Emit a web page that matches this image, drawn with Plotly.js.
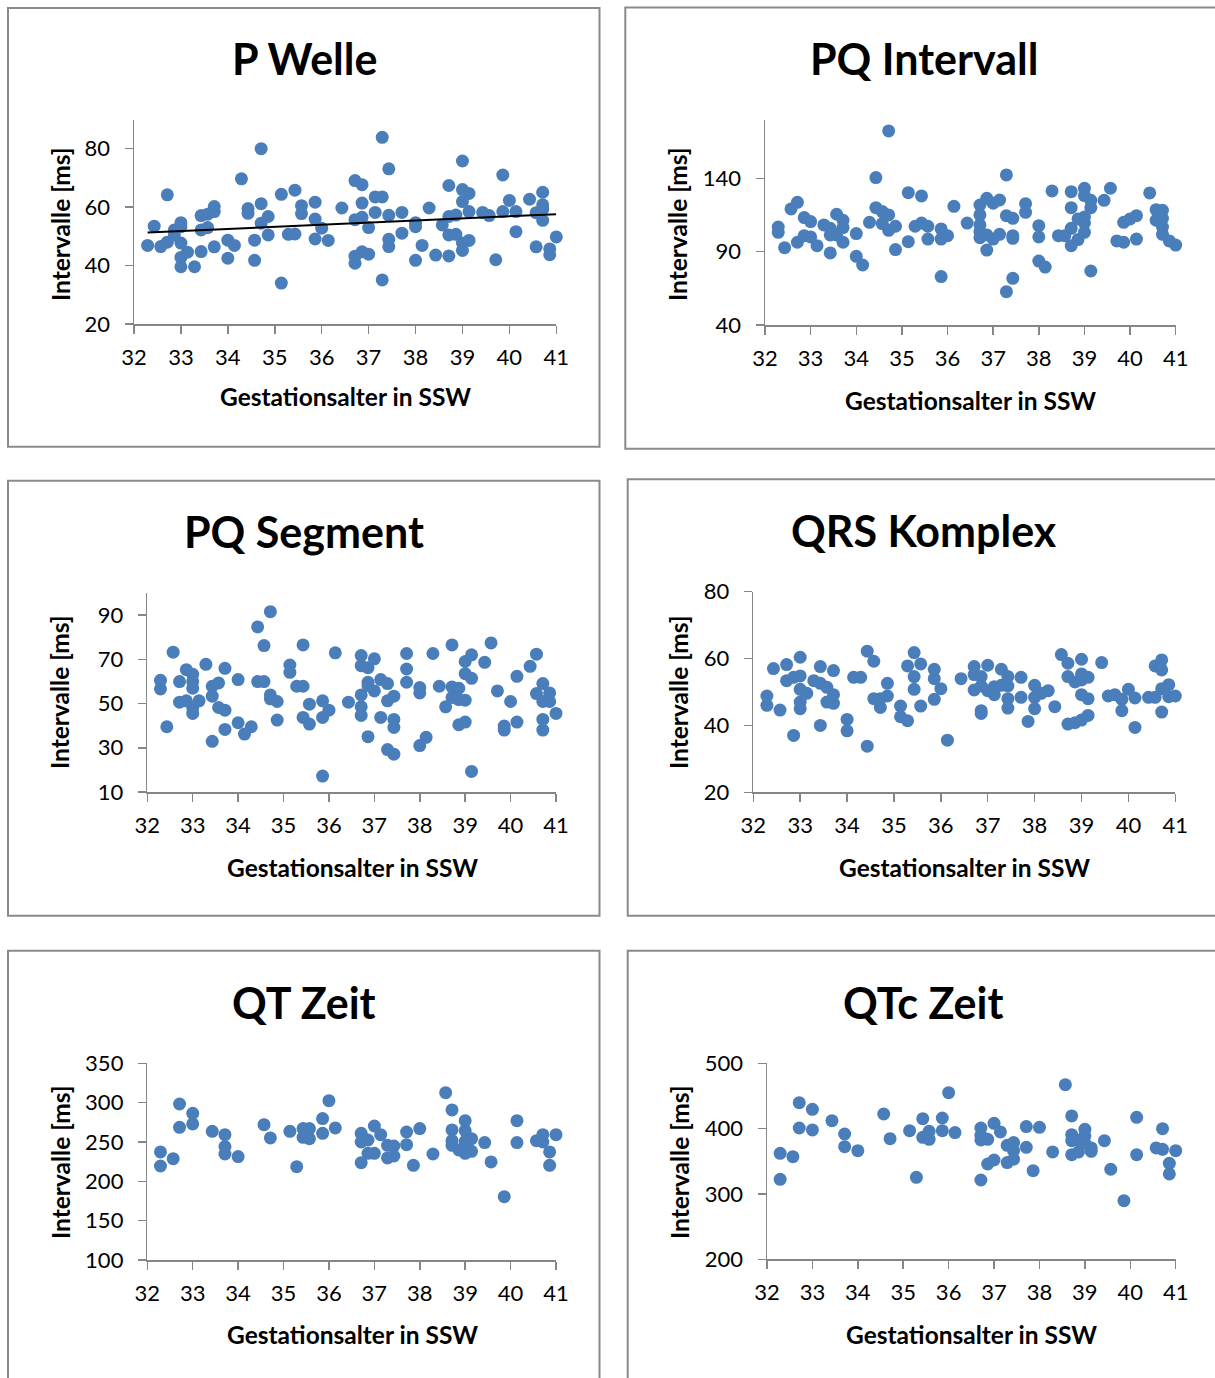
<!DOCTYPE html>
<html>
<head>
<meta charset="utf-8">
<script src="https://cdn.plot.ly/plotly-3.0.1.min.js"></script>
<style>
  html, body { margin: 0; padding: 0; background: #ffffff; }
  #chart { width: 1215px; height: 1378px; }
</style>
</head>
<body>
<div id="chart"></div>
<script>
// ---- Data: gestational age (weeks) vs. interval duration (ms) ----

// P Welle
const pWelleX = [32.29,32.43,32.57,32.71,32.71,32.86,32.86,33.00,33.00,33.00,33.00,33.00,33.14,33.29,33.43,33.43,33.43,33.57,33.57,33.71,33.71,33.71,34.00,34.00,34.14,34.29,34.43,34.43,34.57,34.57,34.71,34.71,34.71,34.86,34.86,35.14,35.14,35.29,35.43,35.43,35.57,35.57,35.86,35.86,35.86,36.00,36.14,36.43,36.71,36.86,36.71,36.86,36.86,36.71,36.71,36.86,37.00,37.00,37.14,37.14,37.29,37.29,37.29,37.43,37.43,37.43,37.43,37.71,37.71,38.00,38.00,38.00,38.14,38.29,38.43,38.57,38.71,38.71,38.71,38.71,38.86,38.86,39.00,39.00,39.00,39.00,39.00,39.14,39.14,39.14,39.43,39.57,39.71,39.86,39.86,40.00,40.14,40.14,40.43,40.57,40.57,40.71,40.71,40.71,40.71,40.86,40.86,41.00];
const pWelleY = [46.9,53.5,46.5,64.2,48.0,52.2,50.5,54.7,53.3,47.7,42.8,39.6,44.6,39.6,57.1,52.2,44.8,57.6,53.0,60.2,58.5,46.4,48.7,42.5,46.9,69.7,59.5,57.9,48.7,41.8,80.0,61.2,54.5,56.8,50.5,64.4,34.0,50.7,65.8,50.8,60.5,57.8,61.7,55.9,49.1,52.8,48.6,59.7,69.1,67.7,55.7,56.5,61.4,43.2,40.8,44.7,43.9,53.0,63.5,58.2,63.5,83.9,35.1,73.1,57.2,49.0,46.5,58.2,51.1,54.7,53.3,41.8,46.9,59.7,43.6,53.9,67.4,56.8,50.5,43.3,57.3,50.7,75.8,66.0,61.9,47.7,45.2,64.7,58.5,48.6,58.2,57.1,42.0,71.0,58.5,62.3,58.5,51.6,62.7,58.1,46.4,65.1,60.8,59.3,55.5,45.7,43.7,49.8];
// linear trend of the P wave series (start / end)
const pWelleTrendX = [32.29, 41.00];
const pWelleTrendY = [51.3, 57.6];

// PQ Intervall
const pqIntervallX = [32.29,32.29,32.43,32.57,32.71,32.71,32.86,32.86,33.00,33.00,33.14,33.29,33.43,33.43,33.43,33.57,33.57,33.71,33.71,33.71,34.00,34.00,34.14,34.29,34.43,34.43,34.57,34.57,34.71,34.71,34.71,34.86,34.86,35.14,35.14,35.29,35.43,35.43,35.57,35.57,35.86,35.86,35.86,36.00,36.14,36.43,36.71,36.71,36.71,36.71,36.71,36.86,36.86,36.86,37.00,37.00,37.14,37.14,37.29,37.29,37.29,37.43,37.43,37.43,37.43,37.71,37.71,38.00,38.00,38.00,38.14,38.29,38.43,38.57,38.71,38.71,38.71,38.71,38.86,38.86,39.00,39.00,39.00,39.00,39.00,39.14,39.14,39.14,39.43,39.57,39.71,39.86,39.86,40.00,40.14,40.14,40.43,40.57,40.57,40.71,40.71,40.71,40.71,40.86,41.00];
const pqIntervallY = [106.8,103.2,92.7,119.1,123.6,96.4,113.2,100.9,110.5,100.0,94.1,108.2,105.9,101.4,89.1,115.5,101.4,111.4,106.4,96.4,102.3,86.8,80.9,110.0,140.5,120.0,117.3,109.1,172.3,115.0,104.5,107.3,91.4,130.2,96.8,107.3,128.0,109.5,107.3,98.6,105.5,98.6,73.0,100.9,120.9,109.5,121.8,115.0,108.2,103.6,99.5,126.4,101.4,91.1,123.0,98.6,125.2,101.8,142.3,114.5,62.7,112.7,100.9,99.1,71.8,122.7,116.8,107.7,100.0,83.6,79.5,131.4,100.9,100.9,130.9,120.0,105.9,94.1,112.3,98.2,133.2,128.2,113.6,109.5,103.2,125.0,120.0,76.8,125.0,133.2,97.3,96.4,110.0,112.3,114.5,98.6,130.0,118.6,111.4,118.2,112.7,106.8,101.8,97.3,94.5];

// PQ Segment
const pqSegmentX = [32.29,32.29,32.43,32.57,32.71,32.71,32.86,32.86,33.00,33.00,33.00,33.00,33.00,33.14,33.29,33.43,33.43,33.43,33.57,33.57,33.71,33.71,33.71,34.00,34.00,34.14,34.29,34.43,34.43,34.57,34.57,34.71,34.71,34.71,34.86,34.86,35.14,35.14,35.29,35.43,35.43,35.43,35.57,35.57,35.86,35.86,35.86,36.00,36.14,36.43,36.71,36.71,36.71,36.71,36.71,36.86,36.86,36.86,36.86,37.00,37.00,37.14,37.14,37.29,37.29,37.29,37.43,37.43,37.43,37.43,37.71,37.71,37.71,38.00,38.00,38.00,38.14,38.29,38.43,38.57,38.71,38.71,38.71,38.86,38.86,38.86,39.00,39.00,39.00,39.00,39.14,39.14,39.14,39.43,39.57,39.71,39.86,39.86,40.00,40.14,40.14,40.43,40.57,40.57,40.71,40.71,40.71,40.71,40.86,40.86,41.00];
const pqSegmentY = [60.5,56.6,39.5,73.2,59.9,50.6,65.3,51.2,63.2,59.9,56.9,48.2,45.5,51.2,67.7,57.8,53.3,32.9,59.3,48.2,65.9,47.0,38.3,60.8,41.3,36.2,39.5,84.6,59.9,59.9,76.2,91.5,53.9,52.1,50.9,42.5,67.4,64.1,57.8,57.8,76.5,43.7,49.7,40.7,51.2,43.7,17.2,47.0,72.9,50.6,71.7,67.1,53.9,48.5,44.6,66.2,59.6,58.1,35.0,70.2,55.7,60.8,43.7,59.0,51.2,29.2,53.3,42.8,39.2,27.1,72.6,65.6,59.6,57.2,54.8,31.0,34.7,72.6,57.8,48.5,76.5,57.5,52.7,56.9,51.8,40.4,69.0,63.5,51.5,41.6,72.0,61.4,19.3,68.6,77.4,55.7,39.8,38.0,50.9,62.3,41.6,66.8,72.3,54.5,59.0,50.9,42.8,38.0,54.8,50.9,45.5];

// QRS Komplex
const qrsX = [32.29,32.29,32.43,32.57,32.71,32.71,32.86,32.86,33.00,33.00,33.00,33.00,33.00,33.14,33.29,33.43,33.43,33.43,33.57,33.57,33.71,33.71,33.71,34.00,34.00,34.14,34.29,34.43,34.43,34.57,34.57,34.71,34.71,34.86,34.86,35.14,35.14,35.29,35.29,35.43,35.43,35.43,35.57,35.57,35.86,35.86,35.86,36.00,36.14,36.43,36.71,36.71,36.71,36.86,36.86,36.86,36.86,37.00,37.00,37.14,37.14,37.29,37.29,37.43,37.43,37.43,37.43,37.71,37.71,37.86,38.00,38.00,38.00,38.14,38.29,38.43,38.57,38.71,38.71,38.71,38.86,38.86,39.00,39.00,39.00,39.00,39.00,39.14,39.14,39.14,39.43,39.57,39.71,39.86,39.86,40.00,40.14,40.14,40.43,40.57,40.57,40.71,40.71,40.71,40.71,40.86,40.86,41.00];
const qrsY = [48.8,46.0,57.0,44.6,58.2,53.4,54.4,37.0,60.4,54.8,50.8,47.0,45.0,49.6,53.4,57.6,52.6,40.0,51.4,47.0,56.4,49.2,46.6,41.8,38.4,54.4,54.4,62.2,33.8,59.2,48.0,48.0,45.4,52.6,48.8,45.8,42.6,57.8,41.4,61.8,54.6,50.8,58.4,45.8,56.8,54.0,47.8,51.0,35.6,54.0,57.6,55.2,50.6,54.6,51.8,44.4,43.6,58.0,50.4,51.6,49.2,56.8,52.0,54.6,51.8,48.0,45.2,54.4,48.4,41.2,52.0,48.4,45.0,49.6,50.4,45.6,61.2,58.6,54.6,40.4,53.0,40.8,59.8,55.4,53.6,49.2,41.6,54.4,48.0,43.0,58.8,48.8,49.2,47.8,44.4,50.8,48.2,39.4,48.4,57.8,48.4,59.6,56.6,51.0,44.0,52.2,48.6,48.8];

// QT Zeit
const qtX = [32.29,32.29,32.57,32.71,32.71,33.00,33.00,33.43,33.71,33.71,33.71,34.00,34.57,34.71,35.14,35.29,35.43,35.43,35.57,35.57,35.86,35.86,36.00,36.14,36.71,36.71,36.71,36.86,36.86,37.00,37.00,37.14,37.29,37.29,37.43,37.43,37.71,37.71,37.86,38.00,38.29,38.57,38.71,38.71,38.71,38.71,38.86,39.00,39.00,39.00,39.00,39.14,39.14,39.43,39.57,39.86,40.14,40.14,40.57,40.71,40.71,40.86,40.86,41.00];
const qtY = [237.3,219.5,228.8,298.3,268.6,286.4,272.9,263.6,259.3,244.1,234.7,231.4,272.0,255.1,263.6,218.6,267.0,255.9,267.0,254.2,279.7,261.0,302.5,267.8,261.0,250.0,223.7,252.5,235.6,270.3,235.6,259.3,245.8,229.7,244.9,232.2,262.7,246.6,220.3,267.0,234.7,312.7,290.7,265.3,251.7,245.8,239.8,277.1,264.4,250.8,235.6,254.2,238.1,249.2,224.6,180.5,277.1,249.2,251.7,259.3,250.0,237.3,220.3,259.3];

// QTc Zeit
const qtcX = [32.29,32.29,32.57,32.71,32.71,33.00,33.00,33.43,33.71,33.71,34.00,34.57,34.71,35.14,35.29,35.43,35.43,35.57,35.57,35.86,35.86,36.00,36.14,36.71,36.71,36.71,36.71,36.86,36.86,37.00,37.00,37.14,37.29,37.29,37.43,37.43,37.43,37.71,37.71,37.86,38.00,38.29,38.57,38.71,38.71,38.71,38.71,38.86,38.86,39.00,39.00,39.00,39.14,39.14,39.43,39.57,39.86,40.14,40.14,40.57,40.71,40.71,40.86,40.86,41.00];
const qtcY = [362.2,322.4,357.1,439.8,401.0,429.6,398.0,412.2,391.8,372.4,366.3,422.4,384.7,396.9,325.5,415.3,386.7,395.9,383.7,416.3,396.9,455.1,393.9,401.0,389.8,382.7,321.4,383.7,345.9,408.2,352.0,394.9,374.5,348.0,378.6,366.3,353.1,403.1,371.4,335.7,402.0,364.3,467.3,419.4,390.8,381.6,360.2,382.7,364.3,399.0,388.8,377.6,370.4,365.3,381.6,337.8,289.8,417.3,360.2,370.4,400.0,368.4,346.9,330.6,366.3];

// Axis labelling
const xTickVals = [32, 33, 34, 35, 36, 37, 38, 39, 40, 41];
const panelTitles = ['P Welle', 'PQ Intervall', 'PQ Segment', 'QRS Komplex', 'QT Zeit', 'QTc Zeit'];
const xAxisTitle = 'Gestationsalter in SSW';
const yAxisTitle = 'Intervalle [ms]';

// ---- Page geometry (pixels) ----
const W = 1215, H = 1378;
const fx = v => v / W;
const fy = v => 1 - v / H;

const FONT = 'Lato, "Open Sans", "DejaVu Sans", sans-serif';
const AXIS_GREY = '#868686';
const DOT = '#4A7EBB';

const panels = [
  { x: pWelleX, y: pWelleY, xPix: [134, 556.3], yPix: [324, 119.5], yRange: [20, 90], dtick: 20,
    titleAt: [304, 59], xTitleAt: [345, 397], yTitleAt: [60, 224], frame: [8, 8, 599.5, 446.7] },
  { x: pqIntervallX, y: pqIntervallY, xPix: [765, 1175.7], yPix: [325, 119.6], yRange: [40, 180], dtick: 50,
    titleAt: [924, 59], xTitleAt: [970, 400], yTitleAt: [677, 224], frame: [625.3, 7.5, 1222, 448.7] },
  { x: pqSegmentX, y: pqSegmentY, xPix: [147.3, 556], yPix: [792, 592.9], yRange: [10, 100], dtick: 20,
    titleAt: [304, 532], xTitleAt: [352, 867], yTitleAt: [60, 692], frame: [8, 480.7, 599.5, 915.7] },
  { x: qrsX, y: qrsY, xPix: [753.3, 1175.3], yPix: [792.3, 591.7], yRange: [20, 80], dtick: 20,
    titleAt: [924, 530], xTitleAt: [964, 867], yTitleAt: [679, 692], frame: [627.7, 479.3, 1222, 915.7] },
  { x: qtX, y: qtY, xPix: [147.3, 556], yPix: [1260, 1063.3], yRange: [100, 350], dtick: 50,
    titleAt: [304, 1002], xTitleAt: [352, 1334], yTitleAt: [60, 1162], frame: [8, 950.7, 599.5, 1390] },
  { x: qtcX, y: qtcY, xPix: [767, 1175.7], yPix: [1259.3, 1063.3], yRange: [200, 500], dtick: 100,
    titleAt: [923, 1002], xTitleAt: [971, 1334], yTitleAt: [679, 1162], frame: [627.7, 950.7, 1222, 1390] }
];

const traces = [];
const layout = {
  width: W, height: H,
  margin: { l: 0, r: 0, t: 0, b: 0, pad: 0 },
  paper_bgcolor: '#ffffff',
  plot_bgcolor: 'rgba(0,0,0,0)',
  showlegend: false,
  font: { family: FONT, color: '#000000', size: 22 },
  shapes: [],
  annotations: []
};

panels.forEach((p, i) => {
  const n = i + 1;
  const xa = 'x' + (n === 1 ? '' : n);
  const ya = 'y' + (n === 1 ? '' : n);
  const xKey = 'xaxis' + (n === 1 ? '' : n);
  const yKey = 'yaxis' + (n === 1 ? '' : n);

  traces.push({
    type: 'scatter', mode: 'markers', x: p.x, y: p.y,
    xaxis: xa, yaxis: ya, cliponaxis: false, hoverinfo: 'x+y',
    marker: { color: DOT, size: 13, line: { width: 0 } }
  });

  const common = {
    showgrid: false, zeroline: false, showline: true,
    linecolor: AXIS_GREY, linewidth: 1.5,
    ticks: 'outside', ticklen: 8, tickwidth: 1.5, tickcolor: AXIS_GREY,
    tickfont: { family: FONT, size: 22, color: '#000000' },
    fixedrange: true
  };

  layout[xKey] = Object.assign({}, common, {
    anchor: ya, range: [32, 41], tickmode: 'array', tickvals: xTickVals,
    domain: [fx(p.xPix[0]), fx(p.xPix[1])], ticklabelstandoff: 5
  });
  layout[yKey] = Object.assign({}, common, {
    anchor: xa, range: p.yRange, tick0: p.yRange[0], dtick: p.dtick,
    domain: [fy(p.yPix[0]), fy(p.yPix[1])], ticklabelstandoff: 10
  });

  // frame around each chart
  layout.shapes.push({
    type: 'rect', xref: 'paper', yref: 'paper', layer: 'below',
    x0: fx(p.frame[0]), x1: fx(p.frame[2]), y0: fy(p.frame[3]), y1: fy(p.frame[1]),
    line: { color: '#8a8a8a', width: 2 }, fillcolor: 'rgba(0,0,0,0)'
  });

  layout.annotations.push(
    { text: '<b>' + panelTitles[i] + '</b>', xref: 'paper', yref: 'paper',
      x: fx(p.titleAt[0]), y: fy(p.titleAt[1]), xanchor: 'center', yanchor: 'middle',
      showarrow: false, font: { family: FONT, size: 43, color: '#000000' } },
    { text: '<b>' + xAxisTitle + '</b>', xref: 'paper', yref: 'paper',
      x: fx(p.xTitleAt[0]), y: fy(p.xTitleAt[1]), xanchor: 'center', yanchor: 'middle',
      showarrow: false, font: { family: FONT, size: 24.5, color: '#000000' } },
    { text: '<b>' + yAxisTitle + '</b>', xref: 'paper', yref: 'paper', textangle: -90,
      x: fx(p.yTitleAt[0]), y: fy(p.yTitleAt[1]), xanchor: 'center', yanchor: 'middle',
      showarrow: false, font: { family: FONT, size: 24.5, color: '#000000' } }
  );
});

// trend line on the P wave chart
traces.push({
  type: 'scatter', mode: 'lines', x: pWelleTrendX, y: pWelleTrendY,
  xaxis: 'x', yaxis: 'y', cliponaxis: false, hoverinfo: 'skip',
  line: { color: '#000000', width: 2 }
});

Plotly.newPlot('chart', traces, layout, { displayModeBar: false, staticPlot: true });
</script>
</body>
</html>
